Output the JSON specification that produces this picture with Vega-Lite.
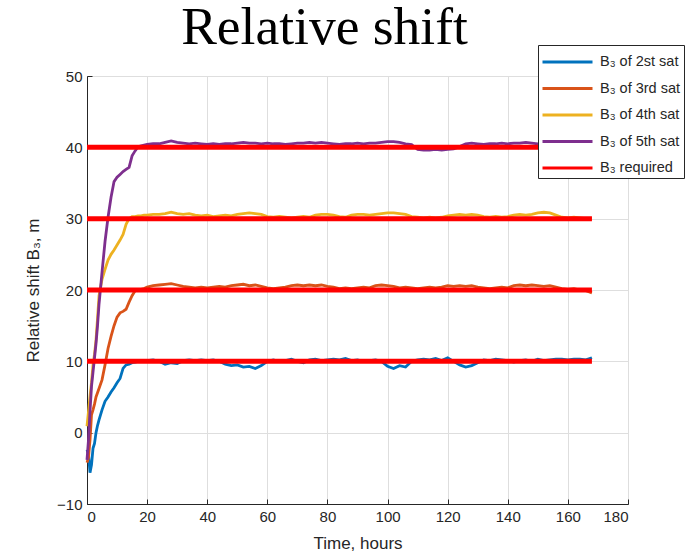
{
  "$schema": "https://vega.github.io/schema/vega-lite/v6.json",
  "autosize": "none",
  "width": 541,
  "height": 428,
  "padding": {"left": 87, "top": 76, "right": 64, "bottom": 53},
  "background": "white",
  "config": {
    "view": {"stroke": "#262626", "strokeWidth": 1},
    "font": "Liberation Sans"
  },
  "title": {
    "text": "Relative shift",
    "font": "Liberation Serif",
    "fontSize": 53.5,
    "fontWeight": "normal",
    "color": "black",
    "anchor": "middle",
    "baseline": "bottom",
    "dx": -33,
    "offset": -64
  },
  "datasets": {
    "sats": [
      {"t": 0, "b2": -2.4, "b3": -4.2, "b4": 0.9, "b5": -3.8},
      {"t": 0.5, "b2": -3.0, "b3": -3.5, "b4": 3.0, "b5": -1.0},
      {"t": 1, "b2": -5.6, "b3": -1.0, "b4": 5.1, "b5": 3.0},
      {"t": 1.5, "b2": -4.5, "b3": 2.5, "b4": 7.0, "b5": 6.5},
      {"t": 2, "b2": -2.2, "b3": 3.2, "b4": 9.5, "b5": 8.5},
      {"t": 2.5, "b2": -1.5, "b3": 4.0, "b4": 11.0, "b5": 10.5},
      {"t": 3, "b2": 0.0, "b3": 5.0, "b4": 13.0, "b5": 12.5},
      {"t": 3.5, "b2": 1.0, "b3": 5.6, "b4": 16.0, "b5": 15.0},
      {"t": 4, "b2": 1.8, "b3": 6.2, "b4": 19.2, "b5": 18.0},
      {"t": 5, "b2": 3.2, "b3": 7.4, "b4": 21.5, "b5": 22.5},
      {"t": 6, "b2": 4.4, "b3": 9.5, "b4": 22.9, "b5": 26.8},
      {"t": 7, "b2": 5.0, "b3": 11.8, "b4": 24.2, "b5": 30.2},
      {"t": 8, "b2": 5.7, "b3": 13.5, "b4": 25.0, "b5": 33.0},
      {"t": 9, "b2": 6.3, "b3": 15.0, "b4": 25.6, "b5": 35.2},
      {"t": 10, "b2": 7.0, "b3": 16.2, "b4": 26.3, "b5": 35.8},
      {"t": 11, "b2": 7.6, "b3": 16.8, "b4": 27.0, "b5": 36.2},
      {"t": 12, "b2": 9.0, "b3": 17.0, "b4": 27.8, "b5": 36.6},
      {"t": 13, "b2": 9.5, "b3": 17.3, "b4": 29.2, "b5": 36.9},
      {"t": 14, "b2": 9.6, "b3": 18.3, "b4": 30.0, "b5": 37.2},
      {"t": 15, "b2": 9.8, "b3": 19.2, "b4": 30.3, "b5": 38.8},
      {"t": 16, "b2": 9.9, "b3": 19.9, "b4": 30.3, "b5": 39.5},
      {"t": 17, "b2": 10.0, "b3": 20.0, "b4": 30.4, "b5": 40.1},
      {"t": 18, "b2": 10.1, "b3": 20.1, "b4": 30.4, "b5": 40.2},
      {"t": 19, "b2": 10.0, "b3": 20.2, "b4": 30.5, "b5": 40.3},
      {"t": 20, "b2": 10.1, "b3": 20.4, "b4": 30.5, "b5": 40.4},
      {"t": 22, "b2": 10.2, "b3": 20.6, "b4": 30.6, "b5": 40.5},
      {"t": 24, "b2": 10.0, "b3": 20.7, "b4": 30.6, "b5": 40.5},
      {"t": 26, "b2": 9.6, "b3": 20.8, "b4": 30.7, "b5": 40.7},
      {"t": 28, "b2": 9.8, "b3": 20.9, "b4": 30.9, "b5": 40.9},
      {"t": 30, "b2": 9.7, "b3": 20.7, "b4": 30.7, "b5": 40.7},
      {"t": 32, "b2": 10.1, "b3": 20.5, "b4": 30.6, "b5": 40.6},
      {"t": 34, "b2": 10.2, "b3": 20.4, "b4": 30.7, "b5": 40.5},
      {"t": 36, "b2": 10.1, "b3": 20.3, "b4": 30.5, "b5": 40.6},
      {"t": 38, "b2": 10.2, "b3": 20.4, "b4": 30.4, "b5": 40.5},
      {"t": 40, "b2": 10.1, "b3": 20.3, "b4": 30.5, "b5": 40.4},
      {"t": 42, "b2": 10.2, "b3": 20.4, "b4": 30.3, "b5": 40.5},
      {"t": 44, "b2": 10.0, "b3": 20.5, "b4": 30.4, "b5": 40.4},
      {"t": 46, "b2": 9.6, "b3": 20.4, "b4": 30.5, "b5": 40.5},
      {"t": 48, "b2": 9.4, "b3": 20.6, "b4": 30.4, "b5": 40.5},
      {"t": 50, "b2": 9.5, "b3": 20.7, "b4": 30.6, "b5": 40.6},
      {"t": 52, "b2": 9.2, "b3": 20.8, "b4": 30.7, "b5": 40.7},
      {"t": 54, "b2": 9.3, "b3": 20.6, "b4": 30.8, "b5": 40.6},
      {"t": 56, "b2": 9.0, "b3": 20.7, "b4": 30.7, "b5": 40.6},
      {"t": 58, "b2": 9.4, "b3": 20.5, "b4": 30.6, "b5": 40.5},
      {"t": 60, "b2": 10.0, "b3": 20.3, "b4": 30.3, "b5": 40.6},
      {"t": 62, "b2": 10.2, "b3": 20.2, "b4": 30.2, "b5": 40.5},
      {"t": 64, "b2": 10.0, "b3": 20.3, "b4": 30.3, "b5": 40.5},
      {"t": 66, "b2": 10.1, "b3": 20.4, "b4": 30.2, "b5": 40.4},
      {"t": 68, "b2": 10.3, "b3": 20.6, "b4": 30.1, "b5": 40.5},
      {"t": 70, "b2": 10.0, "b3": 20.7, "b4": 30.2, "b5": 40.6},
      {"t": 72, "b2": 9.8, "b3": 20.6, "b4": 30.3, "b5": 40.6},
      {"t": 74, "b2": 10.2, "b3": 20.7, "b4": 30.2, "b5": 40.7},
      {"t": 76, "b2": 10.3, "b3": 20.6, "b4": 30.5, "b5": 40.6},
      {"t": 78, "b2": 10.1, "b3": 20.7, "b4": 30.6, "b5": 40.7},
      {"t": 80, "b2": 10.2, "b3": 20.5, "b4": 30.6, "b5": 40.6},
      {"t": 82, "b2": 10.3, "b3": 20.4, "b4": 30.5, "b5": 40.5},
      {"t": 84, "b2": 10.2, "b3": 20.2, "b4": 30.3, "b5": 40.4},
      {"t": 86, "b2": 10.4, "b3": 20.3, "b4": 30.2, "b5": 40.5},
      {"t": 88, "b2": 10.1, "b3": 20.2, "b4": 30.5, "b5": 40.5},
      {"t": 90, "b2": 10.2, "b3": 20.3, "b4": 30.6, "b5": 40.6},
      {"t": 92, "b2": 10.0, "b3": 20.4, "b4": 30.6, "b5": 40.5},
      {"t": 94, "b2": 10.1, "b3": 20.3, "b4": 30.5, "b5": 40.6},
      {"t": 96, "b2": 10.2, "b3": 20.6, "b4": 30.6, "b5": 40.6},
      {"t": 98, "b2": 10.0, "b3": 20.7, "b4": 30.7, "b5": 40.7},
      {"t": 100, "b2": 9.3, "b3": 20.6, "b4": 30.8, "b5": 40.8},
      {"t": 102, "b2": 9.0, "b3": 20.5, "b4": 30.8, "b5": 40.8},
      {"t": 104, "b2": 9.4, "b3": 20.3, "b4": 30.7, "b5": 40.7},
      {"t": 106, "b2": 9.2, "b3": 20.4, "b4": 30.6, "b5": 40.5},
      {"t": 108, "b2": 10.0, "b3": 20.3, "b4": 30.3, "b5": 40.4},
      {"t": 110, "b2": 10.2, "b3": 20.2, "b4": 30.2, "b5": 39.7},
      {"t": 112, "b2": 10.3, "b3": 20.3, "b4": 30.1, "b5": 39.6},
      {"t": 114, "b2": 10.2, "b3": 20.4, "b4": 30.2, "b5": 39.6},
      {"t": 116, "b2": 10.4, "b3": 20.3, "b4": 30.1, "b5": 39.7},
      {"t": 118, "b2": 10.1, "b3": 20.4, "b4": 30.2, "b5": 39.6},
      {"t": 120, "b2": 10.5, "b3": 20.6, "b4": 30.4, "b5": 39.7},
      {"t": 122, "b2": 10.0, "b3": 20.5, "b4": 30.5, "b5": 39.8},
      {"t": 124, "b2": 9.5, "b3": 20.6, "b4": 30.6, "b5": 40.1},
      {"t": 126, "b2": 9.2, "b3": 20.5, "b4": 30.5, "b5": 40.5},
      {"t": 128, "b2": 9.4, "b3": 20.6, "b4": 30.6, "b5": 40.6},
      {"t": 130, "b2": 9.8, "b3": 20.4, "b4": 30.5, "b5": 40.5},
      {"t": 132, "b2": 10.2, "b3": 20.3, "b4": 30.3, "b5": 40.4},
      {"t": 134, "b2": 10.1, "b3": 20.2, "b4": 30.2, "b5": 40.5},
      {"t": 136, "b2": 10.3, "b3": 20.3, "b4": 30.3, "b5": 40.5},
      {"t": 138, "b2": 10.2, "b3": 20.4, "b4": 30.2, "b5": 40.6},
      {"t": 140, "b2": 10.1, "b3": 20.3, "b4": 30.3, "b5": 40.5},
      {"t": 142, "b2": 9.9, "b3": 20.6, "b4": 30.5, "b5": 40.6},
      {"t": 144, "b2": 10.1, "b3": 20.7, "b4": 30.6, "b5": 40.6},
      {"t": 146, "b2": 10.2, "b3": 20.6, "b4": 30.5, "b5": 40.7},
      {"t": 148, "b2": 10.0, "b3": 20.7, "b4": 30.6, "b5": 40.6},
      {"t": 150, "b2": 10.3, "b3": 20.6, "b4": 30.8, "b5": 40.5},
      {"t": 152, "b2": 10.1, "b3": 20.5, "b4": 30.9, "b5": 40.5},
      {"t": 154, "b2": 10.2, "b3": 20.6, "b4": 30.8, "b5": 40.4},
      {"t": 156, "b2": 10.3, "b3": 20.4, "b4": 30.5, "b5": 40.5},
      {"t": 158, "b2": 10.3, "b3": 20.2, "b4": 30.2, "b5": 40.5},
      {"t": 160, "b2": 10.2, "b3": 20.1, "b4": 30.1, "b5": 40.4},
      {"t": 162, "b2": 10.3, "b3": 20.2, "b4": 30.2, "b5": 40.5},
      {"t": 164, "b2": 10.3, "b3": 20.0, "b4": 30.1, "b5": 40.4},
      {"t": 166, "b2": 10.2, "b3": 19.9, "b4": 30.0, "b5": 40.5},
      {"t": 168, "b2": 10.5, "b3": 19.6, "b4": 30.0, "b5": 40.4}
    ],
    "required": [
      {"s": "req", "v": 10, "t0": 0, "t1": 168},
      {"s": "req", "v": 20, "t0": 0, "t1": 168},
      {"s": "req", "v": 30, "t0": 0, "t1": 168},
      {"s": "req", "v": 40, "t0": 0, "t1": 168}
    ]
  },
  "layer": [
    {
      "data": {"name": "sats"},
      "transform": [{"fold": ["b2", "b3", "b4", "b5"], "as": ["s", "v"]}],
      "mark": {"type": "line", "strokeWidth": 2.8, "interpolate": "linear"},
      "encoding": {
        "x": {
          "field": "t",
          "type": "quantitative",
          "scale": {"domain": [0, 180], "nice": false, "zero": false},
          "axis": {
            "title": "Time, hours",
            "values": [0, 20, 40, 60, 80, 100, 120, 140, 160, 180],
            "grid": true,
            "gridColor": "#dedede",
            "gridWidth": 1,
            "domainColor": "#262626",
            "tickColor": "#262626",
            "tickSize": -5,
            "labelColor": "#262626",
            "labelFontSize": 15,
            "labelPadding": 10,
            "titleColor": "#262626",
            "titleFontSize": 17,
            "titleFontWeight": "normal",
            "titlePadding": 11
          }
        },
        "y": {
          "field": "v",
          "type": "quantitative",
          "scale": {"domain": [-10, 50], "nice": false, "zero": false},
          "axis": {
            "title": "Relative shift B₃, m",
            "values": [-10, 0, 10, 20, 30, 40, 50],
            "grid": true,
            "gridColor": "#dedede",
            "gridWidth": 1,
            "domainColor": "#262626",
            "tickColor": "#262626",
            "tickSize": -5,
            "labelColor": "#262626",
            "labelFontSize": 15,
            "labelPadding": 10,
            "titleColor": "#262626",
            "titleFontSize": 17,
            "titleFontWeight": "normal",
            "titlePadding": 14
          }
        },
        "color": {
          "field": "s",
          "type": "nominal",
          "scale": {
            "domain": ["b2", "b3", "b4", "b5", "req"],
            "range": ["#0072BD", "#D95319", "#EDB120", "#7E2F8E", "#FF0000"]
          },
          "legend": {
            "title": null,
            "orient": "none",
            "legendX": 451,
            "legendY": -31,
            "symbolType": "M-1,0L3,0",
            "symbolSize": 625,
            "symbolStrokeWidth": 3,
            "labelFont": "Liberation Sans",
            "labelFontSize": 14.5,
            "labelColor": "#262626",
            "labelOffset": 31,
            "rowPadding": 5.5,
            "padding": 3,
            "strokeColor": "#262626",
            "fillColor": "white",
            "cornerRadius": 0,
            "labelExpr": "{'b2': 'B₃ of 2st sat', 'b3': 'B₃ of 3rd sat', 'b4': 'B₃ of 4th sat', 'b5': 'B₃ of 5th sat', 'req': 'B₃ required'}[datum.value]"
          }
        }
      }
    },
    {
      "data": {"name": "required"},
      "mark": {"type": "rule", "strokeWidth": 5},
      "encoding": {
        "x": {"field": "t0", "type": "quantitative"},
        "x2": {"field": "t1"},
        "y": {"field": "v", "type": "quantitative"},
        "color": {"field": "s", "type": "nominal"}
      }
    }
  ]
}
